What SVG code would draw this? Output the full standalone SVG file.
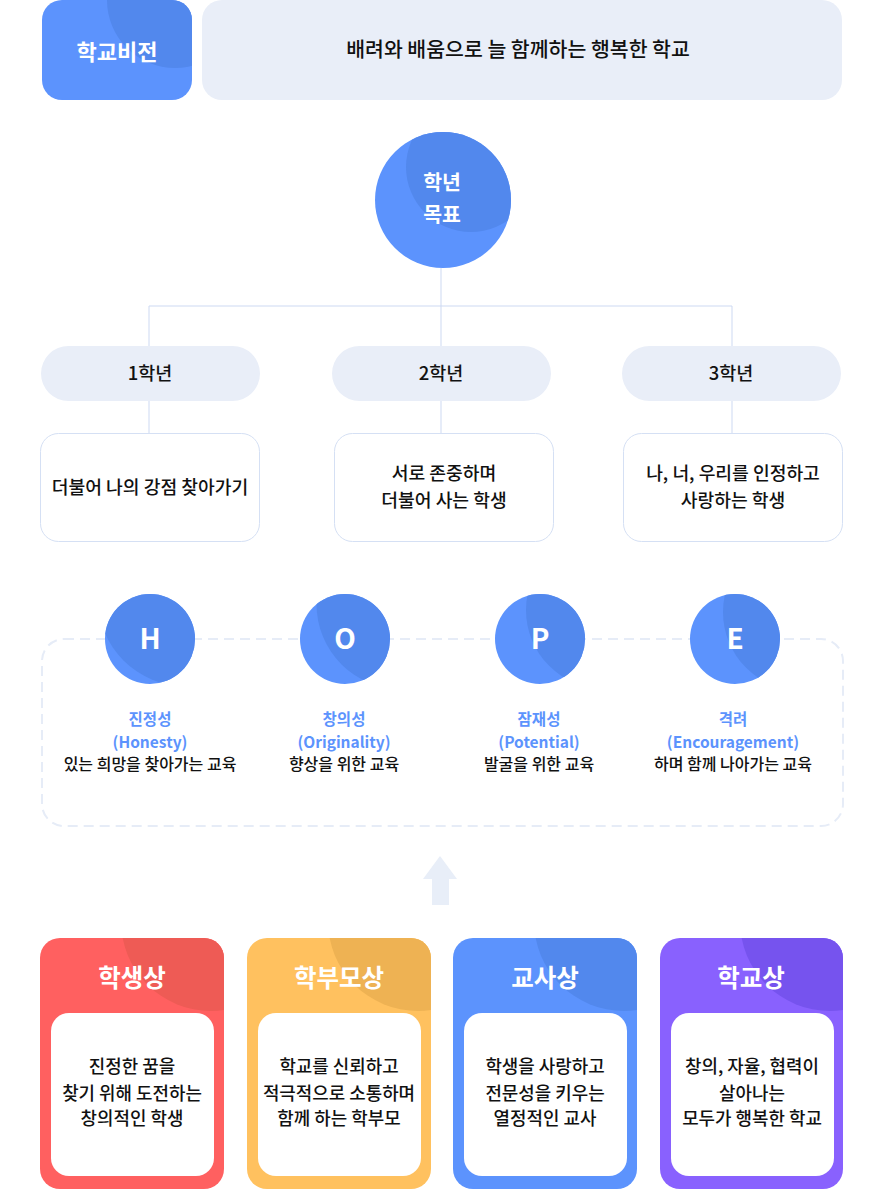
<svg xmlns="http://www.w3.org/2000/svg" width="885" height="1190" viewBox="0 0 885 1190">
<style>
text{font-family:"Noto Sans CJK KR","Noto Sans",sans-serif;text-anchor:middle;}
.w{fill:#ffffff;font-weight:700;}
.d{fill:#111111;font-weight:500;}
.b{fill:#5c93fd;font-weight:700;font-size:15.5px;}
.pill{fill:#e9eef8;}
.box{fill:#ffffff;stroke:#d5e0f4;stroke-width:1;}
.ln{stroke:#cdd9f2;stroke-width:1;fill:none;}
.blue{fill:#5c93fd;}
.blueD{fill:#5288ed;}
</style>
<defs>
<clipPath id="cVision"><rect x="42" y="0" width="150" height="100" rx="20"/></clipPath>
<clipPath id="cGoal"><circle cx="443" cy="200" r="68"/></clipPath>
<clipPath id="cH"><circle cx="150" cy="639" r="45"/></clipPath>
<clipPath id="cO"><circle cx="345" cy="639" r="45"/></clipPath>
<clipPath id="cP"><circle cx="540" cy="639" r="45"/></clipPath>
<clipPath id="cE"><circle cx="735" cy="639" r="45"/></clipPath>
<clipPath id="c1"><rect x="40" y="938" width="184" height="251" rx="20"/></clipPath>
<clipPath id="c2"><rect x="247" y="938" width="184" height="251" rx="20"/></clipPath>
<clipPath id="c3"><rect x="453" y="938" width="184" height="251" rx="20"/></clipPath>
<clipPath id="c4"><rect x="660" y="938" width="183" height="251" rx="20"/></clipPath>
</defs>

<g id="connectors">
<path class="ln" d="M441 268 V306 M149 346 V306 H732 V346 M441 306 V346"/>
<path class="ln" d="M149 401 V433 M441 401 V433 M732 401 V433"/>
<polygon points="440,856 457,879 449,879 449,905 432,905 432,879 423,879" fill="#e8eef8"/>
</g>

<g id="vision">
<rect x="42" y="0" width="150" height="100" rx="20" class="blue"/>
<circle cx="175" cy="0" r="68" class="blueD" clip-path="url(#cVision)"/>
<text x="117" y="60" class="w" font-size="22">학교비전</text>
</g>
<g id="vision-text">
<rect x="202" y="0" width="640" height="100" rx="20" fill="#e9eef8"/>
<text x="518" y="57" class="d" font-size="20.5">배려와 배움으로 늘 함께하는 행복한 학교</text>
</g>

<g id="goal">
<circle cx="443" cy="200" r="68" class="blue"/>
<circle cx="471" cy="167" r="65" class="blueD" clip-path="url(#cGoal)"/>
<text x="442" y="190" class="w" font-size="20.5">학년</text>
<text x="442" y="222" class="w" font-size="20.5">목표</text>
</g>

<g id="grade1">
<rect x="41" y="346" width="219" height="55" rx="27.5" class="pill"/>
<text x="150" y="380" class="d" font-size="18.5">1학년</text>
</g>
<g id="grade2">
<rect x="332" y="346" width="219" height="55" rx="27.5" class="pill"/>
<text x="441" y="380" class="d" font-size="18.5">2학년</text>
</g>
<g id="grade3">
<rect x="622" y="346" width="219" height="55" rx="27.5" class="pill"/>
<text x="731" y="380" class="d" font-size="18.5">3학년</text>
</g>

<g id="goal1">
<rect x="40.5" y="433.5" width="219" height="108" rx="18" class="box"/>
<text x="150" y="494" class="d" font-size="18.2">더불어 나의 강점 찾아가기</text>
</g>
<g id="goal2">
<rect x="334.5" y="433.5" width="219" height="108" rx="18" class="box"/>
<text x="444" y="480" class="d" font-size="18.2">서로 존중하며</text>
<text x="444" y="507" class="d" font-size="18.2">더불어 사는 학생</text>
</g>
<g id="goal3">
<rect x="623.5" y="433.5" width="219" height="108" rx="18" class="box"/>
<text x="733" y="480" class="d" font-size="18.2">나, 너, 우리를 인정하고</text>
<text x="733" y="507" class="d" font-size="18.2">사랑하는 학생</text>
</g>

<g id="hope-frame">
<rect x="42" y="639" width="801" height="187" rx="22" fill="none" stroke="#e6ecf7" stroke-width="2" stroke-dasharray="10 6"/>
</g>

<g id="hope-H">
<circle cx="150" cy="639" r="45" class="blue"/>
<circle cx="185" cy="599" r="87" class="blueD" clip-path="url(#cH)"/>
<text x="150" y="649" class="w" font-size="28">H</text>
<text x="150" y="725" class="b">진정성</text>
<text x="150" y="748" class="b">(Honesty)</text>
<text x="150" y="770" class="d" font-size="16">있는 희망을 찾아가는 교육</text>
</g>
<g id="hope-O">
<circle cx="345" cy="639" r="45" class="blue"/>
<circle cx="402" cy="604" r="85.5" class="blueD" clip-path="url(#cO)"/>
<text x="345" y="649" class="w" font-size="28">O</text>
<text x="344" y="725" class="b">창의성</text>
<text x="344" y="748" class="b">(Originality)</text>
<text x="344" y="770" class="d" font-size="16">향상을 위한 교육</text>
</g>
<g id="hope-P">
<circle cx="540" cy="639" r="45" class="blue"/>
<circle cx="605" cy="610" r="79" class="blueD" clip-path="url(#cP)"/>
<text x="540" y="649" class="w" font-size="28">P</text>
<text x="539" y="725" class="b">잠재성</text>
<text x="539" y="748" class="b">(Potential)</text>
<text x="539" y="770" class="d" font-size="16">발굴을 위한 교육</text>
</g>
<g id="hope-E">
<circle cx="735" cy="639" r="45" class="blue"/>
<circle cx="802" cy="612" r="79" class="blueD" clip-path="url(#cE)"/>
<text x="735" y="649" class="w" font-size="28">E</text>
<text x="733" y="725" class="b">격려</text>
<text x="733" y="748" class="b">(Encouragement)</text>
<text x="733" y="770" class="d" font-size="16">하며 함께 나아가는 교육</text>
</g>

<g id="student">
<rect x="40" y="938" width="184" height="251" rx="20" fill="#ff6060"/>
<circle cx="211" cy="921" r="90" fill="#ee5b55" clip-path="url(#c1)"/>
<text x="132" y="987" class="w" font-size="24.5">학생상</text>
<rect x="51" y="1013" width="163" height="163" rx="18" fill="#ffffff"/>
<text x="132" y="1073" class="d" font-size="17.9">진정한 꿈을</text>
<text x="132" y="1100" class="d" font-size="17.9">찾기 위해 도전하는</text>
<text x="132" y="1125" class="d" font-size="17.9">창의적인 학생</text>
</g>
<g id="parent">
<rect x="247" y="938" width="184" height="251" rx="20" fill="#ffc15f"/>
<circle cx="418" cy="921" r="90" fill="#eeb253" clip-path="url(#c2)"/>
<text x="339" y="987" class="w" font-size="24.5">학부모상</text>
<rect x="258" y="1013" width="163" height="163" rx="18" fill="#ffffff"/>
<text x="339" y="1073" class="d" font-size="17.9">학교를 신뢰하고</text>
<text x="339" y="1100" class="d" font-size="17.9">적극적으로 소통하며</text>
<text x="339" y="1125" class="d" font-size="17.9">함께 하는 학부모</text>
</g>
<g id="teacher">
<rect x="453" y="938" width="184" height="251" rx="20" fill="#5c93fd"/>
<circle cx="624" cy="921" r="90" fill="#5288ed" clip-path="url(#c3)"/>
<text x="545" y="987" class="w" font-size="24.5">교사상</text>
<rect x="464" y="1013" width="163" height="163" rx="18" fill="#ffffff"/>
<text x="545" y="1073" class="d" font-size="17.9">학생을 사랑하고</text>
<text x="545" y="1100" class="d" font-size="17.9">전문성을 키우는</text>
<text x="545" y="1125" class="d" font-size="17.9">열정적인 교사</text>
</g>
<g id="school">
<rect x="660" y="938" width="183" height="251" rx="20" fill="#8961fe"/>
<circle cx="830" cy="921" r="90" fill="#7653ee" clip-path="url(#c4)"/>
<text x="751" y="987" class="w" font-size="24.5">학교상</text>
<rect x="671" y="1013" width="163" height="163" rx="18" fill="#ffffff"/>
<text x="752" y="1073" class="d" font-size="17.9">창의, 자율, 협력이</text>
<text x="752" y="1100" class="d" font-size="17.9">살아나는</text>
<text x="752" y="1125" class="d" font-size="17.9">모두가 행복한 학교</text>
</g>
</svg>
